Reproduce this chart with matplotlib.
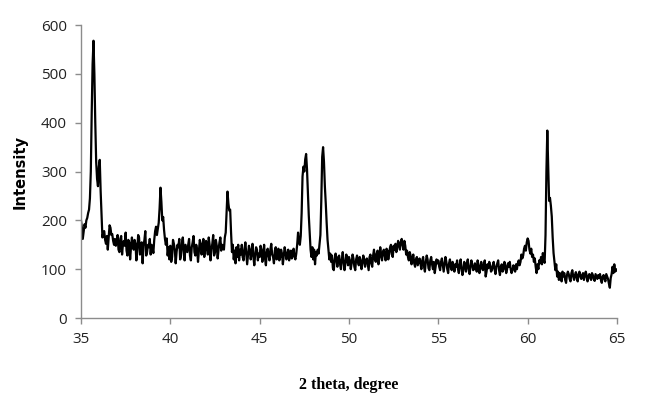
import numpy as np
import matplotlib
matplotlib.use("Agg")
import matplotlib.pyplot as plt

# XRD intensity, read at 0.05 degree steps, one row per degree (35.00 ... 64.95), plus 65.00
rows = [
    [200, 185, 162, 178, 192, 185, 200, 205, 215, 222, 245, 300, 420, 520, 568, 500, 400, 320, 285, 270],  # 35
    [310, 324, 260, 210, 165, 175, 178, 160, 152, 168, 140, 165, 190, 185, 170, 172, 158, 150, 162, 148],  # 36
    [155, 170, 140, 135, 162, 168, 130, 152, 158, 148, 175, 138, 128, 160, 155, 120, 145, 165, 150, 140],  # 37
    [160, 152, 118, 140, 170, 165, 130, 138, 155, 112, 148, 160, 178, 128, 135, 150, 145, 162, 130, 150],  # 38
    [145, 133, 160, 178, 187, 170, 182, 195, 225, 267, 238, 200, 207, 180, 162, 150, 163, 128, 145, 120],  # 39
    [148, 115, 125, 160, 152, 140, 112, 135, 150, 145, 162, 120, 128, 155, 165, 138, 118, 150, 142, 135],  # 40
    [150, 162, 128, 118, 145, 155, 168, 135, 128, 150, 140, 115, 138, 160, 152, 130, 145, 162, 125, 140],  # 41
    [158, 145, 130, 165, 150, 118, 140, 152, 170, 128, 135, 160, 148, 122, 140, 155, 165, 138, 150, 145],  # 42
    [140, 165, 175, 215, 259, 235, 220, 222, 175, 135, 150, 120, 138, 112, 145, 125, 150, 118, 140, 130],  # 43
    [150, 125, 118, 140, 155, 132, 110, 128, 148, 140, 120, 135, 152, 125, 108, 130, 145, 140, 118, 132],  # 44
    [125, 148, 140, 115, 130, 150, 122, 108, 135, 142, 128, 118, 140, 152, 130, 125, 112, 138, 145, 120],  # 45
    [130, 142, 118, 125, 140, 132, 110, 128, 145, 135, 120, 128, 140, 118, 132, 138, 122, 130, 142, 125],  # 46
    [120, 132, 150, 175, 160, 150, 168, 215, 290, 310, 300, 325, 336, 305, 258, 210, 175, 140, 125, 145],  # 47
    [120, 140, 110, 135, 128, 140, 132, 150, 170, 240, 330, 350, 320, 270, 235, 195, 160, 139, 120, 132],  # 48
    [115, 128, 102, 98, 120, 132, 118, 105, 125, 128, 110, 100, 120, 135, 115, 98, 112, 130, 122, 108],    # 49
    [125, 118, 100, 112, 130, 122, 105, 98, 120, 128, 115, 108, 125, 118, 100, 112, 128, 120, 105, 118],   # 50
    [122, 110, 98, 125, 130, 112, 105, 128, 140, 120, 115, 132, 138, 110, 125, 145, 130, 118, 135, 140],   # 51
    [128, 118, 142, 138, 120, 132, 145, 150, 130, 125, 148, 140, 152, 135, 145, 158, 150, 140, 155, 162],  # 52
    [150, 140, 158, 148, 130, 138, 125, 118, 135, 128, 110, 122, 130, 112, 105, 120, 125, 108, 115, 122],  # 53
    [112, 100, 118, 125, 105, 95, 115, 128, 120, 102, 98, 118, 125, 110, 100, 115, 92, 105, 120, 112],    # 54
    [118, 105, 98, 115, 122, 108, 95, 110, 125, 115, 100, 92, 112, 120, 105, 98, 115, 108, 95, 110],      # 55
    [105, 118, 100, 92, 110, 120, 102, 88, 98, 115, 108, 95, 112, 120, 100, 90, 105, 118, 110, 98],       # 56
    [100, 112, 105, 95, 118, 108, 92, 100, 115, 105, 98, 110, 118, 85, 95, 110, 102, 115, 108, 95],       # 57
    [98, 108, 115, 100, 90, 105, 112, 118, 98, 88, 105, 110, 95, 100, 115, 108, 92, 100, 112, 105],       # 58
    [115, 100, 92, 98, 108, 102, 95, 110, 100, 112, 118, 108, 115, 130, 122, 128, 142, 148, 138, 155],    # 59
    [163, 158, 140, 132, 142, 125, 130, 115, 122, 105, 92, 110, 100, 118, 112, 125, 110, 133, 118, 113],  # 60
    [170, 300, 384, 310, 240, 246, 230, 208, 165, 133, 115, 98, 110, 85, 95, 78, 92, 88, 75, 95],         # 61
    [85, 92, 78, 72, 88, 95, 90, 80, 75, 92, 98, 85, 78, 88, 94, 82, 75, 90, 95, 85],                     # 62
    [80, 88, 92, 78, 85, 95, 88, 75, 82, 90, 85, 78, 92, 88, 80, 76, 90, 85, 80, 88],                     # 63
    [82, 90, 78, 72, 85, 88, 80, 75, 90, 85, 80, 70, 62, 82, 90, 105, 92, 110, 95, 100],                  # 64
]
last_value = [98]  # 65.00

x_ticks = [35, 40, 45, 50, 55, 60, 65]
y_ticks = [0, 100, 200, 300, 400, 500, 600]

intensity = np.array([v for r in rows for v in r] + last_value, dtype=float)
two_theta = np.round(np.linspace(35, 65, len(intensity)), 2)

fig = plt.figure(figsize=(6.66, 4.05), dpi=100)
ax = fig.add_axes([0.1216, 0.2148, 0.8048, 0.7232])
ax.plot(two_theta, intensity, color="black", linewidth=1.6)

ax.set_xlim(35, 65)
ax.set_ylim(0, 600)
ax.set_xticks(x_ticks)
ax.set_yticks(y_ticks)

for s in ["top", "right"]:
    ax.spines[s].set_visible(False)
for s in ["left", "bottom"]:
    ax.spines[s].set_color("#8c8c8c")
    ax.spines[s].set_linewidth(1.0)
ax.tick_params(axis="both", direction="out", length=4, width=1.0, color="#8c8c8c",
               labelsize=11, labelcolor="#222222", pad=6)
for lab in ax.get_xticklabels() + ax.get_yticklabels():
    lab.set_family("Open Sans")

ax.set_ylabel("Intensity", fontsize=10.5, fontweight="bold", family="DejaVu Sans", labelpad=10)
ax.set_xlabel("2 theta, degree", fontsize=11.5, fontweight="bold", family="Liberation Serif", labelpad=22)

fig.savefig("out.png", dpi=100)
